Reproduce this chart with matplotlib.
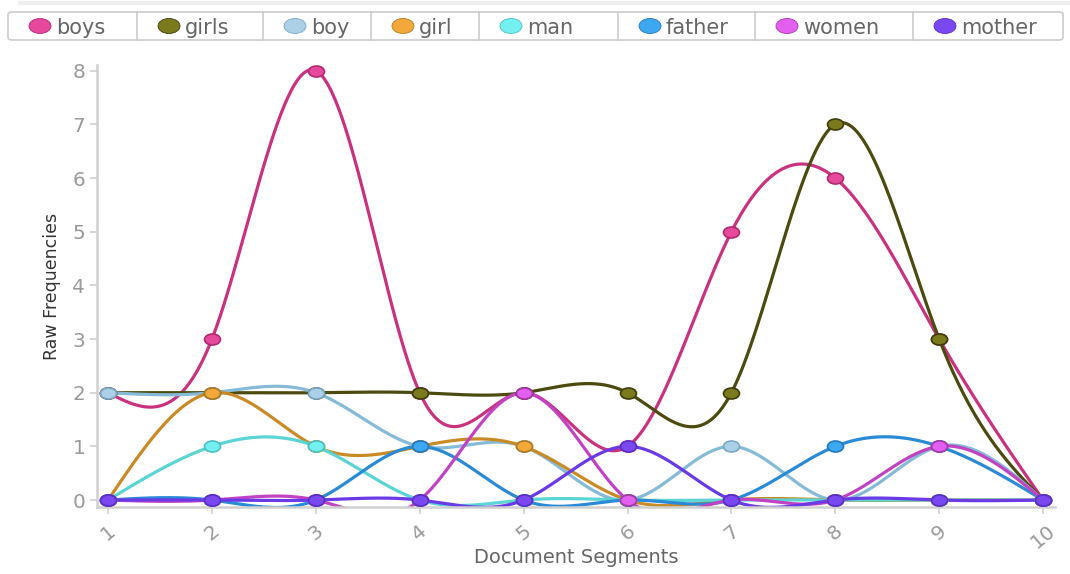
import numpy as np
import matplotlib
matplotlib.use("Agg")
from matplotlib import pyplot as plt
from matplotlib.path import Path
from matplotlib.patches import Ellipse, FancyBboxPatch
from matplotlib.lines import Line2D

segments = [1, 2, 3, 4, 5, 6, 7, 8, 9, 10]
words = ["boys", "girls", "boy", "girl", "man", "father", "women", "mother"]

boys = [2, 3, 8, 2, 2, 1, 5, 6, 3, 0]
girls = [2, 2, 2, 2, 2, 2, 2, 7, 3, 0]
boy = [2, 2, 2, 1, 1, 0, 1, 0, 1, 0]
girl = [0, 2, 1, 1, 1, 0, 0, 0, 0, 0]
man = [0, 1, 1, 0, 0, 0, 0, 0, 0, 0]
father = [0, 0, 0, 1, 0, 0, 0, 1, 1, 0]
women = [0, 0, 0, 0, 2, 0, 0, 0, 1, 0]
mother = [0, 0, 0, 0, 0, 1, 0, 0, 0, 0]
series = [boys, girls, boy, girl, man, father, women, mother]

fill_colors = ["#e6489c", "#7b7b1e", "#acd0e6", "#f2a93a", "#74f0f0", "#3ca8f0", "#e25ff0", "#7a48f0"]
line_colors = ["#c8327f", "#4b4b10", "#86bbd8", "#c98b26", "#5bd4d4", "#2a8ad6", "#c243c2", "#6a3ae6"]
edge_colors = ["#b02a70", "#3e3e0c", "#7aa9c6", "#b07a20", "#4cc0c0", "#2478c0", "#a838a8", "#5a2ec8"]


def natural_spline(x, y, n=60):
    x = np.asarray(x, float)
    y = np.asarray(y, float)
    k = len(x)
    h = np.diff(x)
    A = np.zeros((k, k))
    b = np.zeros(k)
    A[0, 0] = 1
    A[-1, -1] = 1
    for i in range(1, k - 1):
        A[i, i - 1] = h[i - 1]
        A[i, i] = 2 * (h[i - 1] + h[i])
        A[i, i + 1] = h[i]
        b[i] = 6 * ((y[i + 1] - y[i]) / h[i] - (y[i] - y[i - 1]) / h[i - 1])
    m = np.linalg.solve(A, b)
    xs, ys = [], []
    for i in range(k - 1):
        t = np.linspace(x[i], x[i + 1], n)
        a = x[i + 1] - t
        c = t - x[i]
        s = (m[i] * a ** 3 + m[i + 1] * c ** 3) / (6 * h[i]) \
            + (y[i] / h[i] - m[i] * h[i] / 6) * a \
            + (y[i + 1] / h[i] - m[i + 1] * h[i] / 6) * c
        xs.append(t)
        ys.append(s)
    return np.concatenate(xs), np.concatenate(ys)


circ = Path.unit_circle()
oval = Path(circ.vertices * np.array([1.45, 1.0]), circ.codes)

fig = plt.figure(figsize=(10.7, 5.74), dpi=100)
ax = fig.add_axes([0.0907, 0.1167, 0.8953, 0.7703])

for vals, fc, lc, ec in zip(series, fill_colors, line_colors, edge_colors):
    sx, sy = natural_spline(segments, vals)
    ax.plot(sx, sy, color=lc, lw=2.3, solid_capstyle="round", zorder=2)
    ax.plot(segments, vals, ls="none", marker=oval, ms=11.5, mfc=fc, mec=ec,
            mew=1.2, zorder=3)

ax.set_xlim(0.894, 10.115)
ax.set_ylim(-0.13, 8.11)
ax.set_xticks(segments)
ax.set_yticks(range(0, 9))
for s in ["top", "right"]:
    ax.spines[s].set_visible(False)
for s in ["left", "bottom"]:
    ax.spines[s].set_color("#d0d0d0")
    ax.spines[s].set_linewidth(1.8)
ax.tick_params(axis="both", colors="#d0d0d0", labelcolor="#9a9a9a", labelsize=14.5,
               length=5, width=1.2)
for lbl in ax.get_xticklabels():
    lbl.set_rotation(40)
    lbl.set_ha("center")
ax.tick_params(axis="x", pad=5)
ax.set_xlabel("Document Segments", fontsize=14, color="#666666", labelpad=-3)
ax.set_ylabel("Raw Frequencies", fontsize=12.5, color="#333333", labelpad=8,
              family=["Liberation Sans Narrow", "DejaVu Sans Condensed", "DejaVu Sans"])

# top strip
fig.add_artist(Line2D([20 / 1070, 1], [1 - 3 / 574, 1 - 3 / 574], transform=fig.transFigure,
                      color="#eeeeee", lw=3))

# legend boxes
edges = [8, 137, 263, 371, 479, 618, 755, 913, 1063]
y0, y1 = 12, 40
W, H = 1070, 574
frame = FancyBboxPatch((edges[0] / W, 1 - y1 / H), (edges[-1] - edges[0]) / W, (y1 - y0) / H,
                       boxstyle="round,pad=0,rounding_size=0.004", transform=fig.transFigure,
                       fc="white", ec="#cccccc", lw=1.2)
fig.add_artist(frame)
for i, (name, fc, ec) in enumerate(zip(words, fill_colors, edge_colors)):
    left = edges[i]
    if i > 0:
        fig.add_artist(Line2D([left / W, left / W], [1 - y1 / H, 1 - y0 / H],
                              transform=fig.transFigure, color="#cccccc", lw=1.2))
    cx = left + 32
    cy = 1 - 26 / H
    fig.add_artist(Ellipse((cx / W, cy), 22 / W, 15 / H, transform=fig.transFigure,
                           fc=fc, ec=ec, lw=0.6))
    fig.text((cx + 16) / W, cy, name, fontsize=15, color="#666666", va="center_baseline",
             ha="left")

fig.savefig("out.png", dpi=100)
